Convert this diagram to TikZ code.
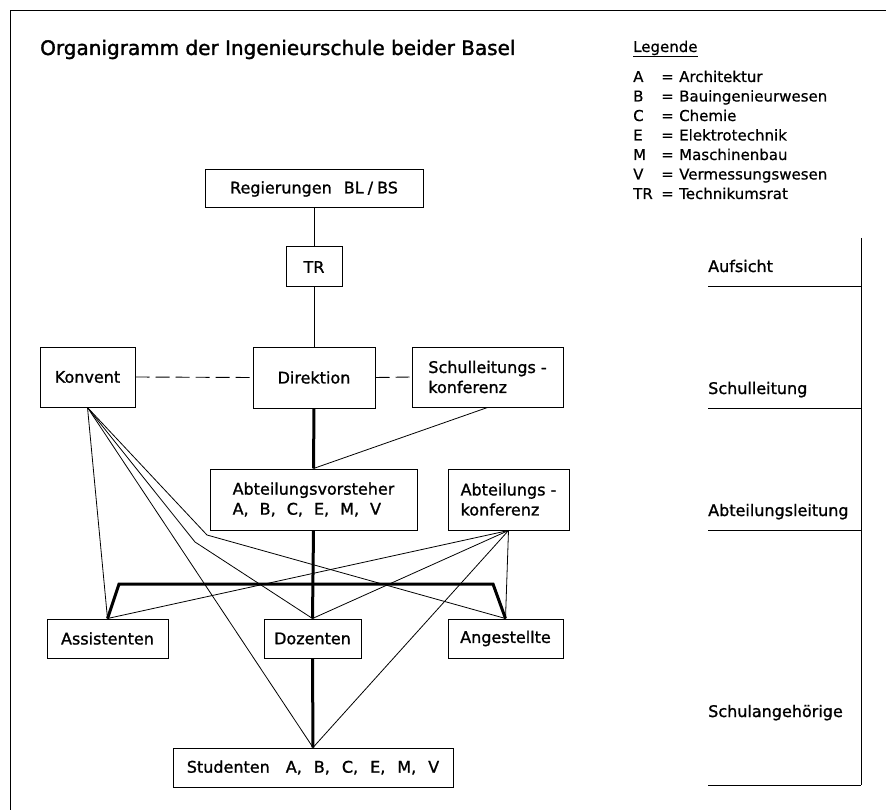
\documentclass[tikz,border=0pt]{standalone}
\usepackage{fontspec}
\setmainfont{DejaVu Sans}
\newfontfamily\titlefont{DejaVu Sans}[FakeBold=1.6]
\newfontfamily\boxfont{DejaVu Sans}[FakeBold=1.2]
\newfontfamily\legfont{DejaVu Sans}[FakeBold=0.6]
\begin{document}
\begin{tikzpicture}[x=1pt,y=-1pt,
  box/.style={draw, line width=1pt, inner sep=0pt, align=left, font=\boxfont\fontsize{16}{20}\selectfont},
  thinln/.style={line width=0.8pt},
  thickln/.style={line width=3pt},
  dashln/.style={line width=0.9pt, dash pattern=on 14pt off 6pt},
  lvl/.style={anchor=base west, inner sep=0pt, font=\boxfont\fontsize{16}{20}\selectfont},
  leg/.style={anchor=base west, inner sep=0pt, font=\legfont\fontsize{15}{18}\selectfont}]
\useasboundingbox (0,0) rectangle (886,810);
% frame
\draw[line width=1pt] (10,810) -- (10,11) -- (886,11);
% title
\node[anchor=base west, inner sep=0pt, font=\titlefont\fontsize{20}{24}\selectfont] (title) at (40,55) {Organigramm der Ingenieurschule beider Basel};
% legend
\node[leg] (legh) at (633,52) {\underline{Legende}};
\foreach \k/\t/\yy in {A/Architektur/82, B/Bauingenieurwesen/101.5, C/Chemie/121, E/Elektrotechnik/140.5, M/Maschinenbau/160, V/Vermessungswesen/179.5, TR/Technikumsrat/199}{
  \node[leg] at (633,\yy) {\k};
  \node[leg] at (661,\yy) {=};
  \node[leg] at (679,\yy) {\t};
}
% boxes
\node[box, minimum width=218pt, minimum height=38pt] (reg) at (314,189) {Regierungen\hspace{12pt}BL\hspace{4pt}/\hspace{4pt}BS};
\node[box, minimum width=56pt, minimum height=40pt] (tr) at (314,267) {TR};
\node[box, minimum width=95pt, minimum height=60pt] (kon) at (87.5,377) {Konvent};
\node[box, minimum width=122pt, minimum height=61pt] (dir) at (314,377.5) {Direktion};
\node[box, minimum width=151pt, minimum height=60pt] (slk) at (487.5,377) {Schulleitungs -\\konferenz};
\node[box, minimum width=207pt, minimum height=61pt] (abv) at (313.5,499.5) {Abteilungsvorsteher\\A,\hspace{11pt}B,\hspace{11pt}C,\hspace{11pt}E,\hspace{11pt}M,\hspace{11pt}V};
\node[box, minimum width=121pt, minimum height=61pt] (abk) at (508.5,499.5) {Abteilungs -\\konferenz};
\node[box, minimum width=121pt, minimum height=39pt] (ass) at (107.5,638.5) {Assistenten};
\node[box, minimum width=97pt, minimum height=39pt] (doz) at (312.5,638.5) {Dozenten};
\node[box, minimum width=115pt, minimum height=39pt] (ang) at (505.5,638.5) {Angestellte};
\node[box, minimum width=280pt, minimum height=39pt] (stu) at (313,767.5) {Studenten\hspace{16pt}A,\hspace{12pt}B,\hspace{12pt}C,\hspace{12pt}E,\hspace{12pt}M,\hspace{12pt}V};
% connectors
\draw[thinln] (tr.north) -- (tr.north |- reg.south);
\draw[thinln] (tr.south) -- (dir.north);
\draw[dashln] (kon.east) -- (dir.west);
\draw[dashln] (dir.east) -- (slk.west);
\draw[thickln] (dir.south) -- (abv.north);
\draw[thinln] (slk.south) -- (abv.north);
\draw[thickln] (abv.south) -- (doz.north);
\draw[thickln] (doz.south) -- (stu.north);
\coordinate (bl) at (119,584);
\coordinate (br) at (493,584);
\draw[thickln, line join=miter] (ass.north) -- (bl) -- (br) -- (ang.north);
\coordinate (k1) at (195,542);
\coordinate (k2) at (207,535);
\draw[thinln] (kon.south) -- (ass.north);
\draw[thinln] (kon.south) -- (k1) -- (doz.north);
\draw[thinln] (kon.south) -- (k2) -- (ang.north);
\draw[thinln] (kon.south) -- (stu.north);
\draw[thinln] (abk.south) -- (ass.north);
\draw[thinln] (abk.south) -- (doz.north);
\draw[thinln] (abk.south) -- (stu.north);
\draw[thinln] (abk.south) -- (ang.north);
% levels
\coordinate (vt) at (861,238);
\coordinate (vb) at (861,785);
\draw[thinln] (vt) -- (vb);
\foreach \yy/\t/\ty in {286/Aufsicht/272, 408/Schulleitung/394, 530/Abteilungsleitung/516, 785/Schulangehörige/717}{
  \draw[thinln] (708,\yy) -- (861,\yy);
  \node[lvl] at (708,\ty) {\t};
}
\end{tikzpicture}
\end{document}
